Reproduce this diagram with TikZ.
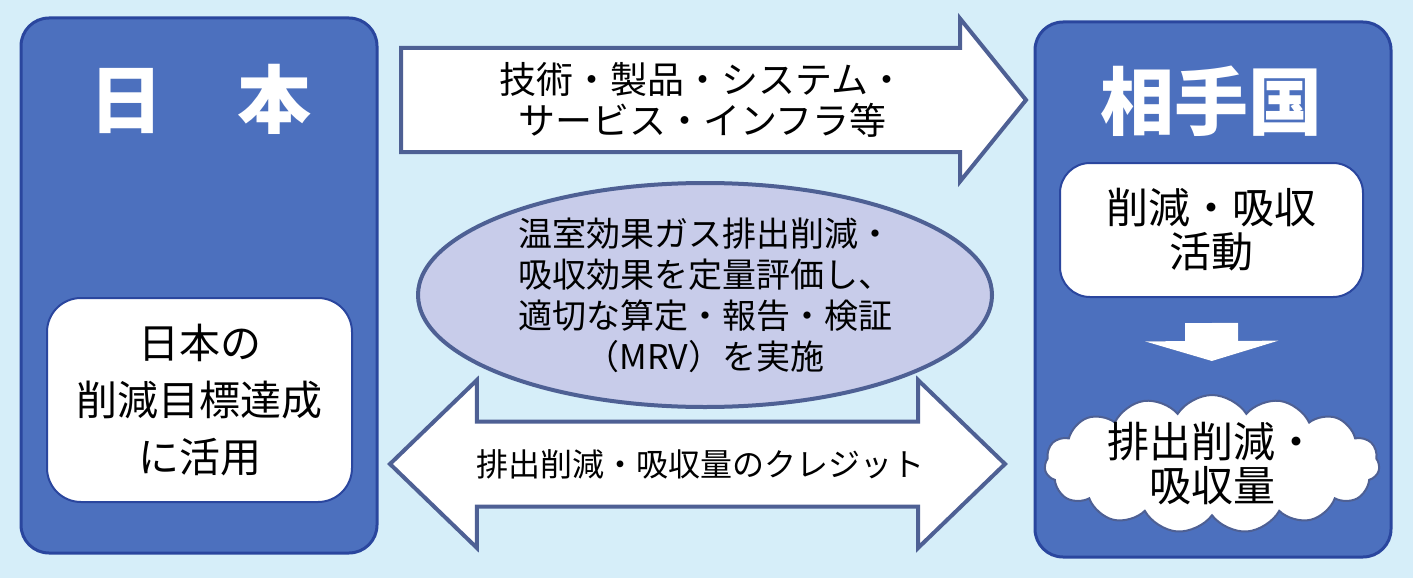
\documentclass[tikz,border=0pt]{standalone}
\usepackage{fontspec}
\setmainfont{Noto Sans CJK JP}
\usetikzlibrary{shapes.geometric,shapes.arrows,shapes.symbols,arrows.meta,positioning}
\definecolor{skybg}{RGB}{214,238,249}
\definecolor{panelblue}{RGB}{76,112,190}
\definecolor{paneledge}{RGB}{42,70,158}
\definecolor{arrowedge}{RGB}{78,96,148}
\definecolor{mrvfill}{RGB}{200,204,234}

\begin{document}
\begin{tikzpicture}[x=1pt,y=-1pt,
    panel/.style={rectangle,rounded corners=28pt,draw=paneledge,line width=3pt,
      fill=panelblue,minimum width=356pt,minimum height=535pt},
    title/.style={text=white,font=\fontsize{74}{80}\selectfont\bfseries},
    white box/.style={rectangle,draw=paneledge,line width=2pt,fill=white,align=center},
    block arrow/.style={draw=arrowedge,line width=4pt,fill=white,inner sep=0pt},
    down step/.style={line width=53pt,-{Triangle[width=133pt,length=20pt]},
      shorten <=25pt,shorten >=33pt}]

  \fill[skybg] (0,0) rectangle (1413,578);
  \useasboundingbox (0,0) rectangle (1413,578);

  % the two sides
  \node[panel] (jp) at (199,285.5) {};
  \node[panel] (host) at (1213,289.5) {};
  \node[title] (jpname) at (200,99) {日　本};
  \node[title] (hostname) at (1211,101) {相手国};

  \node[white box,rounded corners=34pt,minimum width=305pt,minimum height=204pt,
        font=\fontsize{41}{57}\selectfont] (goal) at (199.5,400) {日本の\\削減目標達成\\に活用};
  \node[white box,rounded corners=30pt,minimum width=303pt,minimum height=134pt,
        font=\fontsize{42}{44}\selectfont] (act) at (1211.5,230) {削減・吸収\\活動};
  \node[cloud,cloud puffs=15,cloud puff arc=115,cloud ignores aspect,draw=arrowedge,
        line width=2pt,fill=white,inner sep=0pt,minimum width=335pt,minimum height=138pt,
        font=\fontsize{42}{44}\selectfont] (amount) at (1212,464)
        {\parbox[c][50pt][c]{210pt}{\centering 排出削減・\\吸収量}};

  \draw[down step,paneledge!60!black,opacity=.45,xshift=-3pt,yshift=2pt] (act.south) -- (amount.north);
  \draw[down step,white] (act.south) -- (amount.north);

  % between them
  \node[block arrow,single arrow,single arrow tip angle=102,single arrow head extend=29.5pt,
        minimum height=625pt,anchor=tail,font=\fontsize{37}{41}\selectfont] (tech) at (399,100)
        {\parbox[c][100pt][c]{558pt}{\centering\hspace*{20pt}技術・製品・システム・\\\hspace*{20pt}サービス・インフラ等}};
  \node[ellipse,draw=arrowedge,line width=4pt,fill=mrvfill,inner sep=0pt,
        minimum width=574pt,minimum height=224pt,align=center,
        font=\fontsize{34}{41}\selectfont] (mrv) at (705,295)
        {温室効果ガス排出削減・\\吸収効果を定量評価し、\\適切な算定・報告・検証\\（MRV）を実施};
  \node[block arrow,double arrow,double arrow tip angle=88,double arrow head extend=41.5pt,
        minimum height=615pt,font=\fontsize{32}{36}\selectfont] (credit) at (697.5,464)
        {\parbox[c][81pt][c]{442pt}{\centering 排出削減・吸収量のクレジット}};

\end{tikzpicture}
\end{document}
